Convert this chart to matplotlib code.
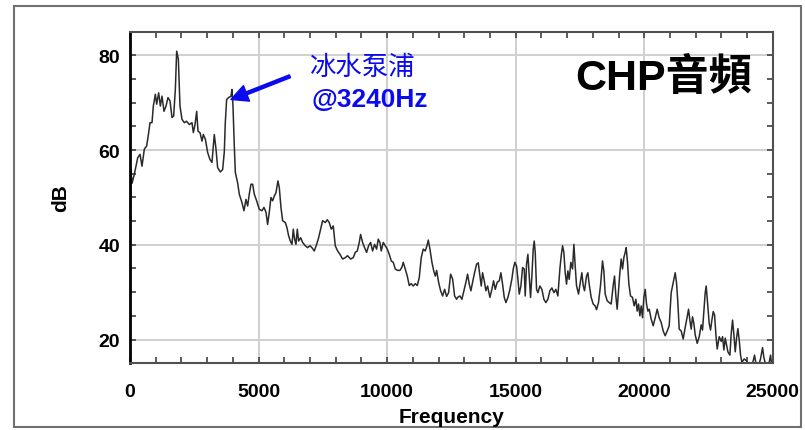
import matplotlib
matplotlib.use("Agg")
import matplotlib.pyplot as plt
from matplotlib.patches import Rectangle
from matplotlib.ticker import MultipleLocator

plt.rcParams['font.family'] = ['Liberation Sans', 'Noto Sans CJK TC', 'DejaVu Sans']

# spectrum (Hz, dB)
freq = [0, 30, 80, 168, 300, 390, 466, 557, 648, 726, 778, 855, 907, 985, 1037,
        1115, 1180, 1244, 1322, 1400, 1477, 1555, 1633, 1697, 1763, 1815, 1880,
        1944, 2022, 2112, 2200, 2307, 2410, 2463, 2528, 2593, 2645, 2722, 2800,
        2852, 2930, 3020, 3110, 3188, 3278, 3343, 3408, 3512, 3603, 3667, 3706,
        3758, 3836, 3927, 3966, 4005, 4056, 4096, 4186, 4250, 4355, 4432, 4510,
        4575, 4639, 4704, 4769, 4834, 4925, 5028, 5132, 5210, 5288, 5352, 5417,
        5482, 5547, 5611, 5676, 5754, 5806, 5871, 5936, 6040, 6105, 6169, 6235,
        6300, 6350, 6402, 6454, 6506, 6558, 6636, 6714, 6817, 6908, 6999, 7076,
        7167, 7258, 7336, 7426, 7491, 7595, 7672, 7750, 7828, 7905, 7983, 8074,
        8165, 8268, 8372, 8463, 8580, 8683, 8761, 8839, 8916, 8968, 9046, 9124,
        9202, 9279, 9357, 9435, 9513, 9590, 9655, 9720, 9772, 9850, 9928, 10005,
        10083, 10161, 10239, 10316, 10407, 10498, 10576, 10627, 10705, 10783,
        10861, 10938, 11016, 11094, 11172, 11250, 11327, 11405, 11483, 11548,
        11600, 11665, 11743, 11808, 11873, 11925, 12002, 12080, 12158, 12236,
        12313, 12391, 12469, 12547, 12624, 12702, 12740, 12831, 12909, 12987,
        13064, 13129, 13194, 13259, 13324, 13401, 13479, 13544, 13609, 13660,
        13712, 13777, 13842, 13907, 13998, 14075, 14140, 14205, 14283, 14361,
        14425, 14490, 14555, 14620, 14698, 14775, 14853, 14905, 14969, 15034,
        15086, 15138, 15203, 15268, 15332, 15371, 15423, 15475, 15527, 15578,
        15630, 15682, 15721, 15760, 15812, 15864, 15941, 16019, 16097, 16175,
        16252, 16330, 16408, 16486, 16563, 16641, 16719, 16771, 16823, 16874,
        16926, 16978, 17030, 17081, 17146, 17211, 17263, 17314, 17366, 17444,
        17522, 17574, 17625, 17677, 17755, 17807, 17858, 17936, 18014, 18092,
        18144, 18221, 18299, 18377, 18429, 18481, 18558, 18636, 18714, 18792,
        18844, 18896, 18947, 18999, 19051, 19103, 19155, 19207, 19259, 19298,
        19350, 19402, 19467, 19544, 19609, 19674, 19726, 19778, 19830, 19881,
        19933, 19985, 20037, 20089, 20141, 20193, 20270, 20348, 20426, 20504,
        20581, 20659, 20737, 20815, 20893, 20970, 21048, 21126, 21204, 21256,
        21307, 21360, 21437, 21515, 21593, 21671, 21723, 21775, 21826, 21878,
        21930, 21982, 22060, 22138, 22215, 22267, 22319, 22371, 22410, 22462,
        22527, 22579, 22631, 22683, 22735, 22787, 22838, 22916, 22994, 23046,
        23098, 23150, 23202, 23254, 23331, 23383, 23435, 23487, 23539, 23591,
        23642, 23694, 23746, 23798, 23888, 23979, 24080, 24160, 24238, 24290,
        24360, 24445, 24523, 24601, 24653, 24730, 24860, 24912, 24960]
db = [42, 56, 53, 54.9, 58.4, 59.1, 56.6, 60.2, 60.9, 63.7, 65.8, 65.8, 69.3, 71.8, 69.7,
      72.1, 69.3, 71.4, 68.2, 69.3, 71.1, 70.4, 66.9, 67.2, 72.8, 80.9, 79.2,
      69.3, 66.5, 65.8, 66.1, 65.4, 65.8, 63.7, 65.4, 68.2, 64.0, 63.7, 61.9,
      63.3, 62.3, 59.5, 58.0, 57.4, 63.3, 60.3, 56.3, 55.4, 55.9, 59.6, 65.8,
      70.7, 71.1, 71.4, 72.8, 69.3, 60.9, 55.3, 53.1, 50.7, 48.9, 47.2, 49.6,
      48.2, 50.7, 52.8, 52.8, 50.7, 49.3, 47.5, 47.2, 47.9, 46.9, 44.3, 46.9,
      50.0, 49.3, 50.3, 51.0, 53.5, 52.1, 47.9, 45.1, 44.7, 43.6, 41.9, 40.8,
      40.1, 43.3, 41.2, 40.1, 43.3, 40.8, 41.5, 40.5, 39.8, 39.4, 39.8, 39.4,
      38.7, 40.1, 41.5, 43.6, 45.1, 44.7, 45.3, 44.7, 43.3, 44.0, 39.8, 38.7,
      38.0, 37.0, 37.3, 37.7, 37.0, 37.3, 38.4, 38.7, 40.5, 42.2, 40.5, 39.4,
      38.4, 39.8, 40.5, 38.7, 40.1, 39.1, 41.2, 40.5, 38.7, 40.5, 39.8, 39.1,
      38.0, 36.6, 36.3, 34.9, 34.6, 34.6, 35.3, 36.3, 34.9, 33.4,
      31.4, 31.8, 31.3, 31.8, 31.4, 33.1, 37.3, 39.1, 38.7, 39.8,
      41.0, 39.1, 36.3, 34.6, 33.4, 34.6, 32.1, 30.3, 29.2, 30.6,
      29.1, 29.9, 33.8, 32.8, 29.2, 28.5, 28.9, 29.2, 28.5, 30.3,
      32.1, 33.8, 31.7, 30.3, 32.1, 34.1, 35.9, 36.2, 33.4, 31.3,
      34.1, 32.4, 30.3, 31.3, 28.9, 30.6, 32.4, 30.6, 32.1, 32.4,
      34.1, 31.7, 28.9, 27.8, 28.9, 30.6, 32.8, 34.9, 36.3, 35.5,
      32.8, 29.6, 31.3, 35.2, 34.9, 29.2, 35.9, 38.0, 33.4, 28.9,
      33.4, 39.1, 40.8, 38.4, 30.6, 29.9, 31.3, 30.6, 28.5, 27.8,
      28.5, 30.3, 30.9, 29.9, 30.6, 29.2, 34.9, 37.7, 39.8, 38.4,
      34.1, 31.7, 34.5, 32.7, 36.3, 34.9, 40.1, 35.6, 31.4, 29.6,
      32.4, 34.1, 31.4, 30.3, 33.4, 34.1, 31.7, 28.9, 27.5, 27.1,
      26.3, 27.8, 31.4, 36.6, 34.5, 29.6, 28.2, 27.8, 27.5, 31.4,
      33.4, 29.2, 26.4, 30.3, 34.1, 37.0, 34.9, 37.3, 38.4, 39.4,
      36.3, 31.7, 29.2, 28.9, 27.1, 28.5, 26.0, 27.5, 25.0, 27.1,
      24.6, 28.9, 30.6, 27.5, 26.0, 26.4, 24.3, 22.9, 24.6, 26.4,
      24.6, 23.6, 21.8, 20.8, 21.8, 22.9, 29.9, 32.0, 34.1, 32.0,
      27.8, 22.2, 21.8, 20.1, 22.6, 24.8, 26.4, 24.1, 22.2, 24.8,
      23.4, 21.0, 19.2, 20.6, 23.1, 22.0, 25.9, 29.9, 31.3, 27.8,
      23.4, 22.0, 24.1, 25.9, 25.2, 21.0, 18.0, 20.6, 19.6, 20.6,
      17.8, 20.3, 18.8, 17.4, 16.7, 21.2, 24.1, 21.0, 17.4, 20.3,
      22.3, 19.9, 16.7, 15.2, 15.9, 15.5, 14.0, 14.0, 15.5, 16.7,
      14.5, 14.5, 15.9, 18.3, 16.2, 14.5, 15.2, 16.7, 14.5]

x_ticks = [0, 5000, 10000, 15000, 20000, 25000]
y_ticks = [20, 40, 60, 80]
peak_tip = (3927, 70.7)
arrow_tail = (6220, 75.6)

fig = plt.figure(figsize=(8.05, 4.31), dpi=100)
ax = fig.add_axes([0.1615, 0.155, 0.7985, 0.769])

ax.plot(freq, db, color='#2a2a2a', lw=1.1)
ax.set_xlim(0, 25000)
ax.set_ylim(15, 85)
ax.set_xticks(x_ticks)
ax.set_yticks(y_ticks)
ax.xaxis.set_minor_locator(MultipleLocator(1000))
ax.yaxis.set_minor_locator(MultipleLocator(5))
ax.grid(True, which='major', color='#cfcfcf', lw=1.4)
ax.set_axisbelow(True)

ax.tick_params(which='both', direction='in', top=True, right=True,
               length=4, width=1.2, color='#404040')
ax.tick_params(axis='x', which='major', pad=14, labelsize=14)
ax.tick_params(axis='y', which='major', pad=7, labelsize=14)
for lab in ax.get_xticklabels() + ax.get_yticklabels():
    lab.set_fontweight('bold')

for s in ax.spines.values():
    s.set_color('#505050')
    s.set_linewidth(1.5)
ax.spines['left'].set_color('black')
ax.spines['left'].set_linewidth(2)

ax.set_xlabel('Frequency', fontsize=15, fontweight='bold')
ax.xaxis.set_label_coords(0.5, -0.133)
ax.xaxis.label.set_va('top')
ax.set_ylabel('dB', fontsize=15, fontweight='bold')
ax.yaxis.set_label_coords(-0.093, 0.5)

ax.text(0.28, 0.896, '冰水泵浦', transform=ax.transAxes, color='#0a0aee',
        fontsize=19, va='center', ha='left', family=['Noto Sans CJK TC'])
ax.text(0.283, 0.797, '@3240Hz', transform=ax.transAxes, color='#0a0aee',
        fontsize=19, fontweight='bold', va='center', ha='left')
ax.text(0.692, 0.863, 'CHP音頻', transform=ax.transAxes, color='black',
        fontsize=31, fontweight='bold', va='center', ha='left')
ax.annotate('', xy=peak_tip, xytext=arrow_tail,
            arrowprops=dict(facecolor='#0a0aee', edgecolor='#0a0aee',
                            width=2.2, headwidth=12, headlength=12, shrink=0))

# outer frame
fig.patches.append(Rectangle((14 / 805, 3 / 431), 787 / 805, 421 / 431,
                             transform=fig.transFigure, fill=False,
                             edgecolor='#707070', lw=1.5, zorder=-1))

fig.savefig('out.png', dpi=100)
